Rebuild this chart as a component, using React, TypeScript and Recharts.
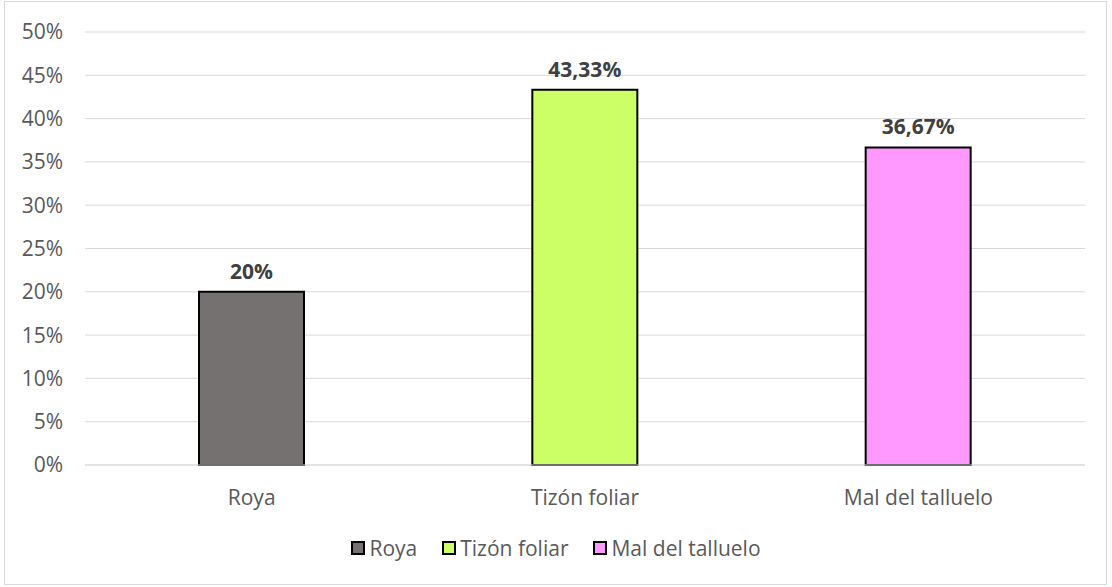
import React from 'react';
import { BarChart, Bar, Cell, CartesianGrid, XAxis, YAxis, LabelList } from 'recharts';

const categories = ['Roya', 'Tizón foliar', 'Mal del talluelo'];
const values = [20, 43.33, 36.67];
const colors = ['#757171', '#CCFF66', '#FF99FF'];
const labels = ['20%', '43,33%', '36,67%'];
const yTicks = [0, 5, 10, 15, 20, 25, 30, 35, 40, 45, 50];

const data = categories.map((name, i) => ({ name, value: values[i], label: labels[i] }));

const font = '"Open Sans", "Noto Sans", sans-serif';
const textColor = '#595959';

const App: React.FC = () => {
  return (
    <div style={{ position: 'absolute', left: 0, top: 0, width: 1112, height: 587, fontFamily: font, background: '#fff' }}>
      <div
        style={{
          position: 'absolute',
          left: 4,
          top: 1,
          width: 1101,
          height: 582,
          border: '1px solid #d9d9d9',
        }}
      />
      <div style={{ position: 'absolute', left: 0, top: 0 }}>
        <BarChart width={1112} height={587} data={data} margin={{ top: 32, right: 27, left: 0, bottom: 90 }}>
          <CartesianGrid vertical={false} stroke="#d9d9d9" strokeWidth={1} />
          <XAxis
            dataKey="name"
            axisLine={{ stroke: '#d9d9d9' }}
            tickLine={false}
            tickSize={0}
            tickMargin={25}
            height={32}
            tick={{ fill: textColor, fontSize: 21, fontFamily: font }}
          />
          <YAxis
            domain={[0, 50]}
            ticks={yTicks}
            interval={0}
            axisLine={false}
            tickLine={false}
            tickSize={0}
            tickMargin={22}
            width={85}
            tickFormatter={(v: number) => `${v}%`}
            tick={{ fill: textColor, fontSize: 21, fontFamily: font }}
          />
          <Bar dataKey="value" barSize={105} stroke="#000" strokeWidth={2} isAnimationActive={false}>
            {data.map((d, i) => (
              <Cell key={d.name} fill={colors[i]} />
            ))}
            <LabelList
              dataKey="label"
              position="top"
              offset={13}
              style={{ fill: '#404040', fontSize: 21, fontWeight: 700, fontFamily: font }}
            />
          </Bar>
        </BarChart>
      </div>
      <div
        style={{
          position: 'absolute',
          top: 535,
          left: 0,
          width: 1112,
          display: 'flex',
          justifyContent: 'center',
          gap: 25,
          fontSize: 21,
          color: textColor,
          lineHeight: '26px',
        }}
      >
        {categories.map((c, i) => (
          <div key={c} style={{ display: 'flex', alignItems: 'center', gap: 4 }}>
            <span
              style={{
                display: 'inline-block',
                width: 10,
                height: 10,
                background: colors[i],
                border: '2px solid #000',
              }}
            />
            <span>{c}</span>
          </div>
        ))}
      </div>
    </div>
  );
};

export default App;
